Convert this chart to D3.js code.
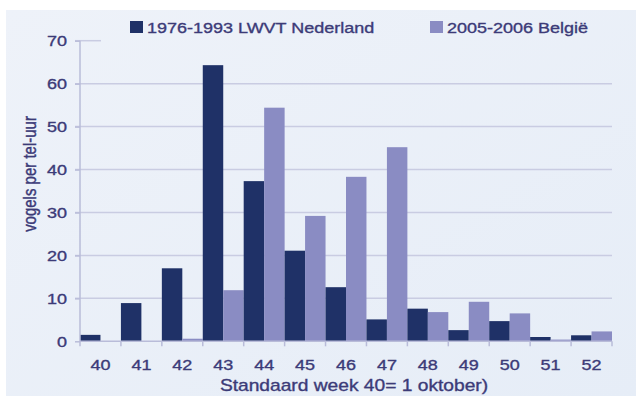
<!DOCTYPE html>
<html><head><meta charset="utf-8">
<script src="https://cdn.jsdelivr.net/npm/d3@7"></script>
<style>body{margin:0;background:#fff}svg{display:block}</style>
</head><body><svg id="c" width="636" height="396"></svg>
<script>
const weeks = ["40","41","42","43","44","45","46","47","48","49","50","51","52"];
const seriesNames = ["1976-1993 LWVT Nederland","2005-2006 België"];
const nederland = [1.5, 8.9, 17.0, 64.3, 37.3, 21.1, 12.6, 5.1, 7.6, 2.6, 4.7, 1.0, 1.4];
const belgie    = [0, 0, 0.6, 11.9, 54.4, 29.2, 38.3, 45.2, 6.8, 9.2, 6.5, 0.4, 2.3];
const yTicks = [0,10,20,30,40,50,60,70];
const colors = ["#1f3167","#8a8cc3"];
const textColor = "#3c3b78";
const FONT = "'Liberation Sans', Arial, sans-serif";
const SX = 1.2;

const svg = d3.select("#c");
const defs = svg.append("defs");
const g = defs.append("linearGradient").attr("id","bg").attr("x1",0).attr("x2",1).attr("y1",0).attr("y2",1);
g.append("stop").attr("offset","0%").attr("stop-color","#eef2f9");
g.append("stop").attr("offset","100%").attr("stop-color","#e6edf7");
svg.append("rect").attr("x",6).attr("y",10).attr("width",630).attr("height",386).attr("fill","url(#bg)");

const pL=80, pR=612, pT=40.7, pB=341.3;
const x = d3.scaleBand().domain(weeks).range([pL,pR]).padding(0);
const xs = d3.scaleBand().domain([0,1]).range([0,x.bandwidth()]).padding(0);
const y = d3.scaleLinear().domain([0,70]).range([pB,pT]);

function styleText(sel,size){
  sel.attr("fill",textColor).attr("stroke",textColor).attr("stroke-width",0.35)
     .style("font",`normal ${size}px ${FONT}`);
}

// gridlines
svg.append("g").selectAll("line").data(yTicks.filter(t=>t>0)).join("line")
  .attr("x1",pL-5).attr("x2",t=>t===70?101:pR)
  .attr("y1",t=>y(t)).attr("y2",t=>y(t))
  .attr("stroke","#c9cce2").attr("stroke-width",1.5);

// bars
const data = weeks.map((w,i)=>[nederland[i],belgie[i]]);
const grp = svg.append("g").selectAll("g").data(data).join("g")
  .attr("transform",(d,i)=>`translate(${x(weeks[i])},0)`);
grp.selectAll("rect").data(d=>d.map((v,k)=>({v,k}))).join("rect")
  .attr("x",d=>xs(d.k)).attr("width",xs.bandwidth())
  .attr("y",d=>y(d.v)).attr("height",d=>y(0)-y(d.v))
  .attr("fill",d=>colors[d.k]);

// y axis
const yAxis = d3.axisLeft(y).tickValues(yTicks).tickSize(5).tickFormat("");
const ya = svg.append("g").attr("transform",`translate(${pL},0)`).call(yAxis);
ya.select(".domain").attr("stroke","#b9bcd9").attr("stroke-width",1.5).attr("d",`M0,${pT}V${pB}`);
ya.selectAll(".tick line").attr("stroke","#b9bcd9").attr("stroke-width",1.5);
svg.append("g").selectAll("text").data(yTicks).join("text")
  .attr("transform",t=>`translate(67,${y(t)+5.5}) scale(${SX},1)`)
  .attr("text-anchor","end").text(t=>t).call(styleText,15);

// x axis
const xa = svg.append("g").attr("transform",`translate(0,${pB})`);
xa.append("line").attr("x1",pL).attr("x2",pR).attr("stroke","#b9bcd9").attr("stroke-width",1.5);
const bounds = weeks.map(w=>x(w)).concat([pR]);
xa.selectAll("line.t").data(bounds).join("line").attr("class","t")
  .attr("x1",d=>d).attr("x2",d=>d).attr("y1",0).attr("y2",5)
  .attr("stroke","#b9bcd9").attr("stroke-width",1.5);
xa.selectAll("text").data(weeks).join("text")
  .attr("transform",w=>`translate(${x(w)+x.bandwidth()/2},29) scale(${SX},1)`)
  .attr("text-anchor","middle").text(w=>w).call(styleText,15);

// titles
svg.append("text").attr("transform",`translate(354,391) scale(${SX},1)`).attr("text-anchor","middle")
  .text("Standaard week 40= 1 oktober)").call(styleText,16);
svg.append("text").attr("transform","translate(36,174) rotate(-90) scale(1,1.2)").attr("text-anchor","middle")
  .text("vogels per tel-uur").call(styleText,15);

// legend
const legX=[130,430];
const lg = svg.append("g").selectAll("g").data(seriesNames).join("g")
  .attr("transform",(d,i)=>`translate(${legX[i]},21)`);
lg.append("rect").attr("width",13).attr("height",12).attr("fill",(d,i)=>colors[i]);
lg.append("text").attr("transform",`translate(17,12) scale(${SX},1)`).text(d=>d).call(styleText,15);
</script></body></html>
